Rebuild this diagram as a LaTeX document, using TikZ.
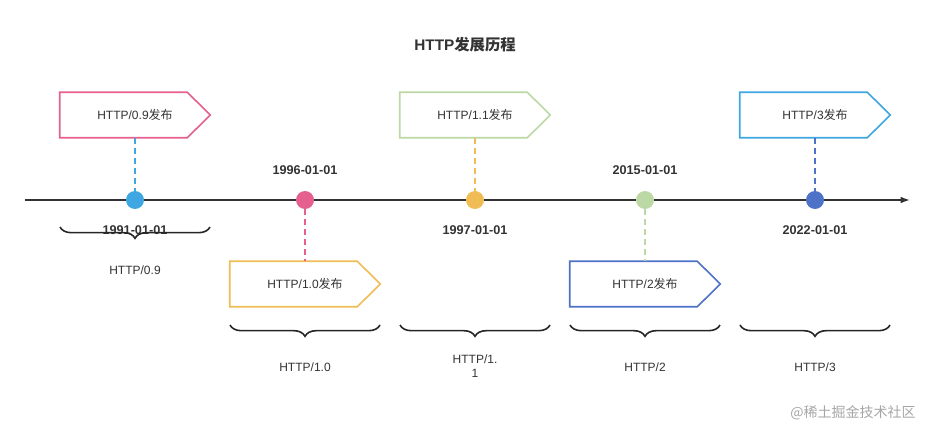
\documentclass[tikz,border=0pt]{standalone}
\usepackage{fontspec}
\setmainfont{Liberation Sans}
\newfontfamily\cjk{Noto Sans CJK SC}
\usetikzlibrary{decorations.pathreplacing,arrows.meta}
\definecolor{cblue}{HTML}{3EA6E0}
\definecolor{cpink}{HTML}{E5608F}
\definecolor{cyel}{HTML}{F0BC55}
\definecolor{cgreen}{HTML}{BCD9A5}
\definecolor{cdblue}{HTML}{4F72C9}
\definecolor{txt}{HTML}{333333}
\newcommand{\myflag}[5]{%
  \node[flagbox] (#1) at (#2,#3) {#5};
  \draw[draw=#4,line width=1.2pt,line join=miter] (#1.north west) -- ([xshift=-17.25pt]#1.north east) -- (#1.east) -- ([xshift=-17.25pt]#1.south east) -- (#1.south west) -- cycle;}
\begin{document}
\begin{tikzpicture}[x=0.75pt,y=-0.75pt,
  flagbox/.style={minimum width=112.5pt,minimum height=33.75pt,inner sep=0pt,text=txt,font=\fontsize{9}{11}\selectfont},
  dot/.style={circle,fill=#1,minimum size=13.5pt,inner sep=0pt},
  date/.style={font=\fontsize{9.5}{11}\selectfont\bfseries,text=txt},
  lab/.style={font=\fontsize{9}{11}\selectfont,text=txt,align=center},
  conn/.style={draw=#1,line width=1pt,dash pattern=on 4.5pt off 3pt},
  br/.style={draw=black!85,line width=1.2pt,decorate,decoration={brace,mirror,amplitude=8.5pt}}]
\useasboundingbox (0,0) rectangle (930,431);
\node[font=\fontsize{11.5}{13}\selectfont\bfseries,text=txt] (title) at (465,45) {HTTP{\cjk 发展历程}};
\coordinate (ls) at (25,200); \coordinate (le) at (910,200);
\draw[line width=1.1pt,black!80,-{Latex[length=7pt,width=5pt]}] (ls) -- (le);
\myflag{f1}{135}{115}{cpink}{HTTP/0.9{\cjk 发布}}
\myflag{f2}{305}{284}{cyel}{HTTP/1.0{\cjk 发布}}
\myflag{f3}{475}{115}{cgreen}{HTTP/1.1{\cjk 发布}}
\myflag{f4}{645}{284}{cdblue}{HTTP/2{\cjk 发布}}
\myflag{f5}{815}{115}{cblue}{HTTP/3{\cjk 发布}}
\node[dot=cblue] (d1) at (135,200) {};
\node[dot=cpink] (d2) at (305,200) {};
\node[dot=cyel] (d3) at (475,200) {};
\node[dot=cgreen] (d4) at (645,200) {};
\node[dot=cdblue] (d5) at (815,200) {};
\draw[conn=cblue] (f1.south) -- (d1);
\draw[conn=cpink] (d2) -- (f2.north);
\draw[conn=cyel] (f3.south) -- (d3);
\draw[conn=cgreen] (d4) -- (f4.north);
\draw[conn=cdblue] (f5.south) -- (d5);
\node[date] (t1) at (135,230) {1991-01-01};
\node[date] (t2) at (305,170) {1996-01-01};
\node[date] (t3) at (475,230) {1997-01-01};
\node[date] (t4) at (645,170) {2015-01-01};
\node[date] (t5) at (815,230) {2022-01-01};
\draw[br] (60,227) -- (210,227);
\draw[br] (230,325) -- (380,325);
\draw[br] (400,325) -- (550,325);
\draw[br] (570,325) -- (720,325);
\draw[br] (740,325) -- (890,325);
\node[lab] (b1) at (135,270) {HTTP/0.9};
\node[lab] (b2) at (305,367) {HTTP/1.0};
\node[lab] (b3) at (475,366) {HTTP/1.\\1};
\node[lab] (b4) at (645,367) {HTTP/2};
\node[lab] (b5) at (815,367) {HTTP/3};
\node[font=\fontsize{10.5}{12}\selectfont\cjk,text=black!35] (wm) at (853,413) {@稀土掘金技术社区};
\end{tikzpicture}
\end{document}
